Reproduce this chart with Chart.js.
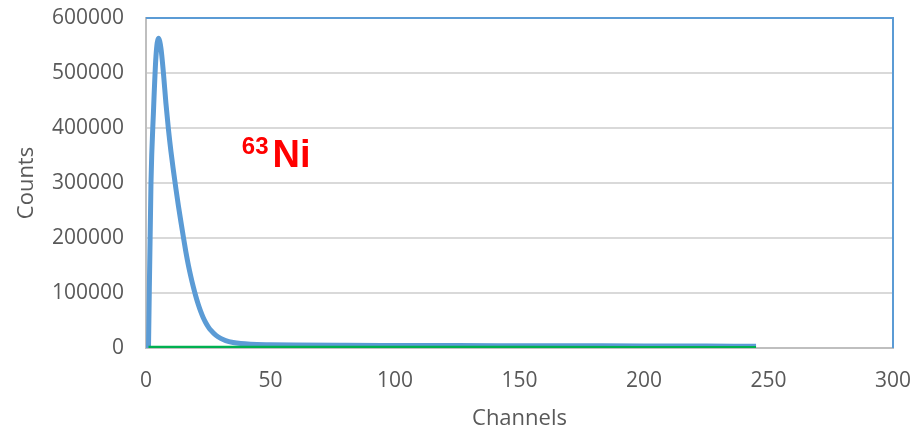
<!DOCTYPE html>
<html>
<head>
<meta charset="utf-8">
<title>63Ni spectrum</title>
<script src="https://cdn.jsdelivr.net/npm/chart.js@4.4.1/dist/chart.umd.min.js"></script>
<style>
  html, body { margin: 0; padding: 0; background: #ffffff; }
  #wrap { width: 913px; height: 430px; position: relative; }
</style>
</head>
<body>
<div id="wrap"><canvas id="chart" width="913" height="430"></canvas></div>
<script>
// Pulse-height spectrum of the 63Ni source (blue) and the background run (green)
const niChannels = [1, 2, 3, 4, 5, 6, 7, 8, 9, 10, 11, 12, 13, 14, 15, 16, 17, 18, 19, 20,
                    21, 22, 23, 24, 25, 26, 28, 30, 32, 35, 38, 42, 50, 60, 80, 100, 125,
                    150, 175, 200, 225, 245];
const niCounts = [0, 300000, 430000, 530000, 563000, 545000, 500000, 445000, 398000, 358000,
                  323000, 290000, 259000, 230000, 202000, 175000, 151000, 130000, 111000, 94000,
                  79000, 66000, 55000, 46000, 38500, 32500, 23500, 17500, 13500, 10000,
                  8000, 6800, 6000, 5500, 5000, 4700, 4400, 4200, 4000, 3800, 3500, 3200];

const bgChannels = [1, 20, 50, 100, 150, 200, 245];
const bgCounts = [300, 500, 400, 300, 300, 200, 200];

const xTicks = [0, 50, 100, 150, 200, 250, 300];
const yTicks = [0, 100000, 200000, 300000, 400000, 500000, 600000];

const toPoints = (xs, ys) => xs.map((x, i) => ({ x: x, y: ys[i] }));

const tickColor = '#595959';
const tickFont = { family: 'Open Sans', size: 21 };

// Blue frame along the top and right edges of the plot area
const frame = {
  id: 'frame',
  beforeDatasetsDraw(chart) {
    const { ctx, chartArea: a } = chart;
    ctx.save();
    ctx.strokeStyle = '#5B9BD5';
    ctx.lineWidth = 2;
    ctx.beginPath();
    ctx.moveTo(a.left, a.top);
    ctx.lineTo(a.right, a.top);
    ctx.lineTo(a.right, a.bottom);
    ctx.stroke();
    ctx.restore();
  }
};

// Isotope label placed in data space
const isotopeLabel = {
  id: 'isotopeLabel',
  afterDatasetsDraw(chart) {
    const { ctx, scales } = chart;
    const x = scales.x.getPixelForValue(38.5);
    const y = scales.y.getPixelForValue(329000);
    ctx.save();
    ctx.fillStyle = '#FF0000';
    ctx.textBaseline = 'alphabetic';
    ctx.textAlign = 'left';
    ctx.font = 'bold 24px "Liberation Sans"';
    const supW = ctx.measureText('63').width;
    ctx.fillText('63', x, y - 13);
    ctx.font = 'bold 38px "Liberation Sans"';
    ctx.fillText('Ni', x + supW + 4, y);
    ctx.restore();
  }
};

new Chart(document.getElementById('chart'), {
  type: 'line',
  data: {
    datasets: [
      {
        label: 'Background',
        data: toPoints(bgChannels, bgCounts),
        borderColor: '#00B050',
        borderWidth: 4,
        pointRadius: 0,
        fill: false,
        order: 0
      },
      {
        label: '63Ni',
        data: toPoints(niChannels, niCounts),
        borderColor: '#5B9BD5',
        borderWidth: 5,
        pointRadius: 0,
        fill: false,
        tension: 0.4,
        cubicInterpolationMode: 'monotone',
        order: 1
      }
    ]
  },
  options: {
    responsive: false,
    animation: false,
    layout: { padding: 0 },
    plugins: { legend: { display: false }, tooltip: { enabled: false } },
    scales: {
      x: {
        type: 'linear',
        min: xTicks[0],
        max: xTicks[xTicks.length - 1],
        afterBuildTicks(scale) { scale.ticks = xTicks.map(v => ({ value: v })); },
        afterFit(scale) {
          scale.height = 82;
          scale.paddingLeft = 0;
          scale.paddingRight = 20;
        },
        grid: { display: false, drawTicks: false },
        border: { display: true, color: '#BFBFBF', width: 2 },
        ticks: { color: tickColor, font: tickFont, padding: 20, maxRotation: 0,
                 callback: v => String(v) },
        title: {
          display: true,
          text: 'Channels',
          color: tickColor,
          font: { family: 'Open Sans', size: 22, lineHeight: 1.0 },
          padding: { top: 0, bottom: 0 }
        }
      },
      y: {
        type: 'linear',
        min: yTicks[0],
        max: yTicks[yTicks.length - 1],
        afterBuildTicks(scale) { scale.ticks = yTicks.map(v => ({ value: v })); },
        afterFit(scale) {
          scale.width = 146;
          scale.paddingTop = 18;
          scale.paddingBottom = 0;
        },
        grid: {
          drawTicks: false,
          color: '#D9D9D9',
          lineWidth: 2
        },
        border: { display: true, color: '#BFBFBF', width: 2 },
        ticks: { color: tickColor, font: tickFont, padding: 22,
                 callback: v => String(v) },
        title: {
          display: true,
          text: 'Counts',
          color: tickColor,
          font: { family: 'Open Sans', size: 22, lineHeight: 1.0 },
          padding: { top: 16, bottom: 0 }
        }
      }
    }
  },
  plugins: [frame, isotopeLabel]
});
</script>
</body>
</html>
